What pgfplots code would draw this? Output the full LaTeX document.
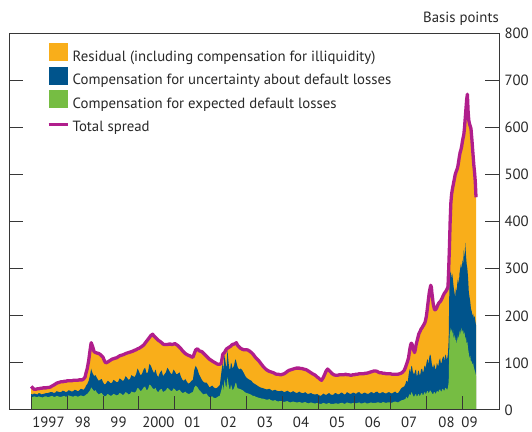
\documentclass[border=0pt]{standalone}
\usepackage{fontspec}
\setmainfont{PT Sans}
\usepackage{pgfplots}
\usepackage{pgfplotstable}
\pgfplotsset{compat=1.18}
\definecolor{cOrange}{RGB}{249,174,26}
\definecolor{cBlue}{RGB}{0,84,140}
\definecolor{cGreen}{RGB}{118,189,67}
\definecolor{cMag}{RGB}{176,30,140}
\definecolor{cFrame}{RGB}{55,55,55}
\definecolor{cText}{RGB}{40,40,40}

\pgfplotstableread{
t G B T
1997.00 28 34 50
1997.04 27 33 47
1997.08 29 35 44
1997.13 28 34 44
1997.17 27 33 45
1997.21 29 36 45
1997.25 28 35 46
1997.29 27 33 46
1997.33 27 34 47
1997.38 29 35 47
1997.42 29 36 47
1997.46 27 36 48
1997.50 28 37 48
1997.54 29 38 49
1997.58 30 38 51
1997.63 28 36 53
1997.67 28 37 55
1997.71 30 40 57
1997.75 29 39 58
1997.79 28 38 59
1997.83 28 38 60
1997.88 29 41 60
1997.92 30 40 61
1997.96 28 38 61
1998.00 29 39 62
1998.04 31 42 62
1998.08 30 41 62
1998.13 29 39 62
1998.17 28 40 63
1998.21 30 43 63
1998.25 30 42 63
1998.29 28 40 63
1998.33 29 41 64
1998.38 31 45 64
1998.42 30 44 64
1998.46 29 43 66
1998.50 31 47 70
1998.53 33 52 80
1998.56 34 55 88
1998.60 38 62 105
1998.64 42 75 128
1998.67 48 88 143
1998.69 46 82 139
1998.71 44 78 135
1998.75 40 72 124
1998.79 42 74 122
1998.83 37 68 121
1998.88 33 62 120
1998.92 35 64 118
1998.96 36 66 115
1999.00 32 59 112
1999.04 29 54 104
1999.08 30 56 100
1999.13 34 62 102
1999.17 32 60 104
1999.21 30 57 106
1999.25 31 58 108
1999.29 34 64 109
1999.33 33 62 110
1999.38 31 59 111
1999.42 32 60 113
1999.46 36 67 115
1999.50 35 65 116
1999.54 32 62 117
1999.58 33 63 118
1999.63 38 72 120
1999.67 36 68 121
1999.71 33 64 122
1999.75 34 66 123
1999.79 39 74 124
1999.83 38 72 125
1999.88 37 70 127
1999.92 40 76 128
1999.96 47 88 130
2000.00 45 82 131
2000.04 40 74 133
2000.08 42 76 135
2000.13 48 86 138
2000.17 50 90 142
2000.21 42 78 146
2000.25 44 80 150
2000.29 54 98 154
2000.33 52 94 158
2000.38 46 84 161
2000.42 44 78 157
2000.46 47 86 154
2000.50 40 74 151
2000.54 38 70 148
2000.58 43 79 146
2000.63 45 84 143
2000.67 38 72 140
2000.71 40 76 139
2000.75 42 80 139
2000.79 47 90 139
2000.83 45 85 140
2000.88 41 78 140
2000.92 40 76 139
2000.96 46 86 140
2001.00 44 82 141
2001.04 40 76 139
2001.08 41 77 137
2001.13 43 80 133
2001.17 39 70 130
2001.21 36 64 126
2001.25 37 62 123
2001.29 39 66 120
2001.33 36 60 118
2001.38 34 56 116
2001.42 35 58 115
2001.46 37 62 113
2001.50 38 64 112
2001.54 48 85 120
2001.58 52 94 128
2001.63 48 86 130
2001.67 43 76 126
2001.71 40 70 125
2001.75 36 64 124
2001.79 33 60 121
2001.83 34 58 118
2001.88 35 58 114
2001.92 30 54 111
2001.96 27 48 108
2002.00 28 50 106
2002.04 29 52 104
2002.08 26 48 102
2002.13 25 46 100
2002.17 27 47 98
2002.21 29 50 97
2002.25 30 53 97
2002.29 42 78 100
2002.31 48 90 108
2002.33 55 100 118
2002.35 40 84 120
2002.38 64 118 122
2002.40 58 106 125
2002.42 48 96 128
2002.44 50 88 130
2002.46 70 128 131
2002.48 62 112 132
2002.50 52 96 133
2002.52 44 86 134
2002.54 45 88 135
2002.56 54 100 136
2002.58 50 98 138
2002.60 42 88 139
2002.63 44 92 140
2002.65 48 96 140
2002.67 52 104 141
2002.69 58 108 142
2002.71 56 102 143
2002.73 48 96 140
2002.75 46 90 137
2002.79 45 86 134
2002.83 44 88 131
2002.88 42 84 129
2002.92 40 78 128
2002.96 37 72 128
2003.00 36 68 128
2003.04 35 66 127
2003.08 34 64 125
2003.13 32 62 122
2003.17 30 58 119
2003.21 30 56 115
2003.25 28 54 111
2003.29 27 52 108
2003.33 26 50 105
2003.38 25 48 100
2003.42 24 47 96
2003.46 24 46 92
2003.50 23 45 89
2003.54 22 44 86
2003.58 22 44 84
2003.63 23 45 82
2003.67 21 43 81
2003.71 20 41 80
2003.75 20 42 79
2003.79 21 43 77
2003.83 19 41 76
2003.88 18 40 76
2003.92 19 40 75
2003.96 19 41 75
2004.00 18 40 76
2004.04 17 38 77
2004.08 18 39 79
2004.13 19 41 82
2004.17 17 39 84
2004.21 16 37 85
2004.25 17 38 86
2004.29 18 40 87
2004.33 17 38 88
2004.38 16 36 89
2004.42 16 37 89
2004.46 17 39 89
2004.50 16 37 88
2004.54 15 36 88
2004.58 16 36 87
2004.63 17 38 86
2004.67 15 35 85
2004.71 14 34 83
2004.75 15 35 81
2004.79 16 36 79
2004.83 15 34 77
2004.88 14 33 75
2004.92 14 33 73
2004.96 15 34 70
2005.00 14 32 68
2005.04 13 30 65
2005.08 13 31 63
2005.13 15 35 69
2005.17 14 33 76
2005.21 13 32 83
2005.25 14 34 87
2005.29 15 36 84
2005.33 13 33 81
2005.38 13 32 77
2005.42 13 33 75
2005.46 14 36 74
2005.50 14 35 74
2005.54 13 33 74
2005.58 14 34 75
2005.63 15 37 75
2005.67 15 36 75
2005.71 13 33 75
2005.75 14 34 76
2005.79 16 38 75
2005.83 15 36 75
2005.88 14 34 74
2005.92 14 35 74
2005.96 15 37 75
2006.00 15 36 75
2006.04 14 34 76
2006.08 15 37 76
2006.13 16 38 77
2006.17 14 35 77
2006.21 14 34 77
2006.25 15 36 77
2006.29 16 37 78
2006.33 14 35 78
2006.38 14 34 79
2006.42 15 36 80
2006.46 16 38 81
2006.50 15 37 82
2006.54 15 35 83
2006.58 15 38 83
2006.63 16 39 82
2006.67 16 36 80
2006.71 15 35 79
2006.75 15 37 79
2006.79 17 38 78
2006.83 16 36 78
2006.88 15 35 77
2006.92 16 37 77
2006.96 16 38 77
2007.00 16 36 77
2007.04 15 35 76
2007.08 17 37 76
2007.13 18 39 76
2007.17 17 36 76
2007.21 16 36 76
2007.25 18 40 77
2007.29 20 45 78
2007.33 21 48 80
2007.38 22 50 84
2007.42 24 56 91
2007.44 28 62 96
2007.46 26 62 100
2007.48 24 58 105
2007.50 28 72 110
2007.52 32 82 120
2007.54 34 88 130
2007.56 30 78 138
2007.58 38 94 142
2007.60 36 92 140
2007.62 32 82 133
2007.65 28 76 126
2007.67 30 78 122
2007.69 33 84 128
2007.71 34 86 138
2007.73 28 72 144
2007.75 30 74 150
2007.77 33 84 156
2007.79 34 82 162
2007.81 29 74 165
2007.83 31 76 168
2007.85 35 86 172
2007.88 36 88 175
2007.90 31 80 178
2007.92 33 82 180
2007.94 37 92 183
2007.96 38 95 186
2007.98 33 88 192
2008.00 36 100 200
2008.02 40 106 212
2008.04 40 108 225
2008.06 35 96 238
2008.08 38 112 250
2008.10 42 118 258
2008.12 40 115 265
2008.14 38 104 260
2008.15 36 98 250
2008.17 34 92 238
2008.19 34 90 225
2008.21 38 98 218
2008.23 38 94 213
2008.25 34 86 213
2008.27 36 88 215
2008.29 40 100 218
2008.31 40 96 222
2008.33 37 92 225
2008.35 42 104 228
2008.38 44 110 230
2008.40 40 100 232
2008.42 39 100 235
2008.44 44 108 238
2008.46 45 112 242
2008.48 42 114 245
2008.50 41 104 248
2008.52 46 115 250
2008.54 47 118 252
2008.56 44 108 255
2008.58 43 110 258
2008.60 48 120 262
2008.62 60 150 300
2008.64 150 270 345
2008.66 175 290 400
2008.68 165 295 440
2008.70 172 280 458
2008.72 160 290 468
2008.74 170 275 476
2008.76 150 260 484
2008.78 160 250 492
2008.80 145 240 500
2008.82 155 260 505
2008.84 140 250 509
2008.86 150 270 513
2008.88 160 280 520
2008.90 150 265 530
2008.92 165 290 540
2008.94 170 300 548
2008.96 160 310 553
2008.98 175 300 560
2009.00 165 320 570
2009.02 170 305 578
2009.04 160 340 585
2009.06 165 320 600
2009.08 150 355 620
2009.10 155 330 640
2009.12 140 310 660
2009.14 145 300 671
2009.16 130 280 635
2009.18 120 250 615
2009.20 110 240 608
2009.22 115 230 603
2009.24 100 215 598
2009.26 105 210 580
2009.28 95 200 560
2009.30 100 205 540
2009.32 90 195 520
2009.34 85 200 505
2009.36 80 190 485
2009.38 72 180 452
}\spread

\pgfplotsset{
  swatch/.style={legend image code/.code={%
    \fill[#1] (0bp,-3.6bp) rectangle (19bp,14.6bp);}},
  lineswatch/.style={legend image code/.code={%
    \path[draw=none, fill=none] (0bp,-3.6bp) rectangle (19bp,14.6bp);
    \draw[#1, line width=2.2bp] (0bp,3.5bp) -- (19bp,3.5bp);}},
}

\begin{document}
\begin{tikzpicture}[font=\fontsize{14.8bp}{17bp}\selectfont]
\begin{axis}[
  scale only axis, width=489.8bp, height=376.5bp,
  xmin=1996.388, xmax=2010.02, ymin=0, ymax=800,
  axis on top,
  axis line style={cFrame, line width=1bp},
  tick style={cFrame, line width=1bp},
  tick align=inside,
  major tick length=14bp,
  xtick={1997,...,2009},
  xticklabels={},
  xtick pos=left,
  extra x ticks={1997.48,1998.44,1999.43,2000.54,2001.49,2002.5,2003.51,2004.51,2005.52,2006.51,2007.52,2008.56,2009.2},
  extra x tick labels={1997,98,99,2000,01,02,03,04,05,06,07,08,09},
  extra x tick style={major tick length=0pt, xticklabel style={anchor=base, yshift=-17.5bp}},
  ytick={0,100,...,800},
  ytick pos=both, yticklabel pos=right,
  yticklabel style={anchor=west, xshift=2bp},
  ticklabel style={font=\fontsize{14.8bp}{17bp}\selectfont, text=cText},
  /pgf/number format/assume math mode=true,
  legend style={draw=none, fill=none, at={(0,1)}, anchor=north west,
    xshift=38.1bp, yshift=-9.5bp, inner sep=0pt, row sep=2.3bp,
    nodes={inner sep=0pt, text height=10bp, text depth=3bp, text=cText,
      font=\fontsize{14.8bp}{17bp}\selectfont},
    /tikz/every odd column/.append style={column sep=4bp}},
  legend cell align=left,
]
\addplot[fill=cOrange, draw=none, swatch] table[x=t, y=T] {\spread} \closedcycle;
\addlegendentry{Residual (including compensation for illiquidity)}
\addplot[fill=cBlue, draw=none, swatch] table[x=t, y=B] {\spread} \closedcycle;
\addlegendentry{Compensation for uncertainty about default losses}
\addplot[fill=cGreen, draw=none, swatch] table[x=t, y=G] {\spread} \closedcycle;
\addlegendentry{Compensation for expected default losses}
\addplot[cMag, line width=3.3bp, line join=round, lineswatch] table[x=t, y=T] {\spread};
\addlegendentry{Total spread}
\end{axis}
\node[anchor=base east, inner sep=0pt, text=cText] at ([yshift=10.5bp]current axis.north east) {Basis points};
\pgfresetboundingbox
\useasboundingbox ([shift={(-9.2bp,-22bp)}]current axis.south west) rectangle ([shift={(33bp,33.5bp)}]current axis.north east);
\end{tikzpicture}
\end{document}
